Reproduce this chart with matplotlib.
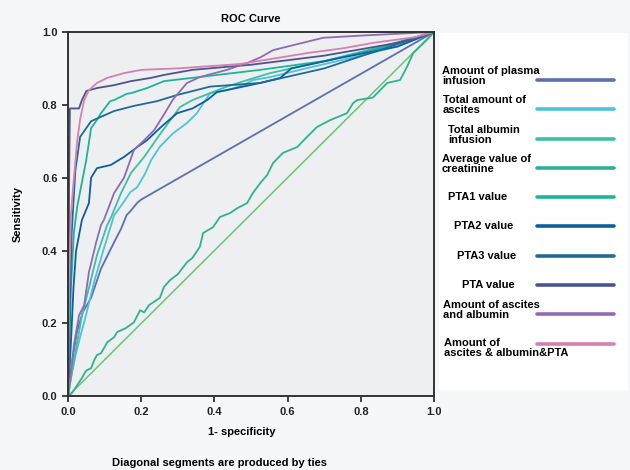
import matplotlib
matplotlib.use("Agg")
from matplotlib import pyplot as plt
from matplotlib.lines import Line2D
from matplotlib.patches import Rectangle

plt.rcParams['font.family'] = ['Liberation Sans', 'DejaVu Sans']
plt.rcParams['font.weight'] = 'bold'

# ROC curves: (1-specificity, sensitivity)
plasma_x = [0, 0.005, 0.015, 0.025, 0.04, 0.063, 0.09, 0.126, 0.145, 0.16, 0.172, 0.19, 0.2, 1.0]
plasma_y = [0, 0.05, 0.12, 0.18, 0.23, 0.27, 0.35, 0.423, 0.46, 0.497, 0.51, 0.532, 0.54, 1.0]

ascites_x = [0, 0.008, 0.02, 0.035, 0.049, 0.071, 0.098, 0.126, 0.15, 0.17, 0.189, 0.21, 0.227, 0.25,
             0.287, 0.325, 0.352, 0.37, 0.388, 0.434, 0.478, 0.505, 0.552, 0.65, 0.8, 0.9, 1.0]
ascites_y = [0, 0.05, 0.11, 0.17, 0.222, 0.313, 0.406, 0.497, 0.53, 0.56, 0.574, 0.61, 0.648, 0.684,
             0.722, 0.75, 0.777, 0.805, 0.832, 0.84, 0.854, 0.868, 0.876, 0.9, 0.935, 0.96, 1.0]

albumin_x = [0, 0.008, 0.02, 0.038, 0.057, 0.079, 0.107, 0.117, 0.145, 0.172, 0.208, 0.254, 0.306,
             0.34, 0.388, 0.434, 0.49, 0.552, 0.7, 0.85, 1.0]
albumin_y = [0, 0.05, 0.12, 0.222, 0.297, 0.387, 0.47, 0.49, 0.558, 0.613, 0.657, 0.723, 0.794,
             0.813, 0.832, 0.85, 0.868, 0.887, 0.92, 0.958, 1.0]

creat_x = [0, 0.01, 0.025, 0.038, 0.049, 0.063, 0.072, 0.079, 0.09, 0.1, 0.107, 0.126, 0.134, 0.158,
           0.18, 0.197, 0.208, 0.221, 0.251, 0.262, 0.279, 0.3, 0.325, 0.34, 0.36, 0.369, 0.396, 0.415,
           0.443, 0.462, 0.489, 0.505, 0.525, 0.544, 0.56, 0.587, 0.626, 0.653, 0.68, 0.716, 0.762,
           0.779, 0.79, 0.833, 0.872, 0.907, 0.926, 0.943, 0.98, 1.0]
creat_y = [0, 0.008, 0.03, 0.05, 0.07, 0.077, 0.1, 0.113, 0.118, 0.135, 0.148, 0.162, 0.176, 0.187,
           0.203, 0.236, 0.23, 0.25, 0.27, 0.3, 0.319, 0.335, 0.368, 0.38, 0.41, 0.448, 0.464, 0.492,
           0.503, 0.516, 0.53, 0.558, 0.585, 0.607, 0.64, 0.668, 0.684, 0.712, 0.739, 0.758, 0.777,
           0.805, 0.813, 0.82, 0.86, 0.868, 0.904, 0.942, 0.978, 1.0]

pta1_x = [0, 0.004, 0.008, 0.016, 0.025, 0.05, 0.063, 0.08, 0.09, 0.115, 0.126, 0.16, 0.172, 0.216,
          0.262, 0.34, 0.525, 0.7, 0.85, 1.0]
pta1_y = [0, 0.15, 0.3, 0.45, 0.52, 0.65, 0.736, 0.76, 0.777, 0.81, 0.813, 0.83, 0.832, 0.846,
          0.865, 0.874, 0.896, 0.92, 0.955, 1.0]

pta2_x = [0, 0.008, 0.015, 0.022, 0.038, 0.057, 0.063, 0.079, 0.117, 0.153, 0.189, 0.216, 0.254,
          0.298, 0.34, 0.38, 0.407, 0.46, 0.525, 0.58, 0.61, 0.75, 0.9, 1.0]
pta2_y = [0, 0.15, 0.3, 0.4, 0.484, 0.53, 0.6, 0.626, 0.635, 0.657, 0.684, 0.703, 0.739,
          0.777, 0.79, 0.813, 0.835, 0.846, 0.86, 0.874, 0.9, 0.93, 0.96, 1.0]

pta3_x = [0, 0.005, 0.01, 0.02, 0.033, 0.063, 0.126, 0.18, 0.243, 0.298, 0.388, 0.525, 0.7, 0.85, 1.0]
pta3_y = [0, 0.25, 0.45, 0.62, 0.712, 0.755, 0.783, 0.797, 0.81, 0.827, 0.85, 0.86, 0.9, 0.95, 1.0]

pta_x = [0, 0.003, 0.005, 0.03, 0.038, 0.05, 0.079, 0.126, 0.172, 0.227, 0.262, 0.34, 0.5, 0.7, 0.9, 1.0]
pta_y = [0, 0.6, 0.79, 0.79, 0.813, 0.838, 0.846, 0.854, 0.865, 0.874, 0.882, 0.896, 0.91, 0.935, 0.97, 1.0]

asc_alb_x = [0, 0.008, 0.016, 0.03, 0.044, 0.057, 0.077, 0.09, 0.098, 0.126, 0.153, 0.18, 0.208,
             0.235, 0.26, 0.287, 0.325, 0.36, 0.434, 0.49, 0.525, 0.56, 0.62, 0.697, 0.8, 1.0]
asc_alb_y = [0, 0.066, 0.14, 0.222, 0.25, 0.34, 0.423, 0.47, 0.484, 0.558, 0.6, 0.676, 0.703,
             0.73, 0.77, 0.815, 0.86, 0.876, 0.896, 0.915, 0.93, 0.95, 0.965, 0.984, 0.99, 1.0]

asc_alb_pta_x = [0, 0.003, 0.008, 0.014, 0.025, 0.033, 0.044, 0.057, 0.079, 0.107, 0.153, 0.2,
                 0.3, 0.47, 0.55, 0.653, 0.75, 0.833, 0.95, 1.0]
asc_alb_pta_y = [0, 0.3, 0.5, 0.575, 0.7, 0.76, 0.813, 0.84, 0.86, 0.874, 0.887, 0.896,
                 0.9, 0.912, 0.925, 0.942, 0.955, 0.97, 0.986, 1.0]

ref_x = [0, 1]
ref_y = [0, 1]

labels = ['Amount of plasma\ninfusion', 'Total amount of\nascites', 'Total albumin\ninfusion',
          'Average value of\ncreatinine', 'PTA1 value', 'PTA2 value', 'PTA3 value', 'PTA value',
          'Amount of ascites\nand albumin', 'Amount of\nascites & albumin&PTA']
curves = [(plasma_x, plasma_y), (ascites_x, ascites_y), (albumin_x, albumin_y), (creat_x, creat_y),
          (pta1_x, pta1_y), (pta2_x, pta2_y), (pta3_x, pta3_y), (pta_x, pta_y),
          (asc_alb_x, asc_alb_y), (asc_alb_pta_x, asc_alb_pta_y)]
colors = ['#5b6fb5', '#4fc3d9', '#3dbfa8', '#2db38f', '#1db59a', '#0b5fa0', '#1e6a9a',
          '#4a5590', '#8e6bb5', '#d77fb0']

fig = plt.figure(figsize=(6.3, 4.7), dpi=100, facecolor='#f6f7f9')
fig.patches.append(Rectangle((0.697, 0.17), 0.3, 0.76, transform=fig.transFigure,
                             facecolor='white', edgecolor='none', zorder=0))
ax = fig.add_axes([0.108, 0.157, 0.581, 0.775])
ax.set_facecolor('#eeeff1')

ax.plot(ref_x, ref_y, color='#6cc46f', lw=1.1)
for (x, y), c in zip(curves, colors):
    ax.plot(x, y, color=c, lw=1.3)

ax.set_xlim(0, 1)
ax.set_ylim(0, 1)
ticks = [0.0, 0.2, 0.4, 0.6, 0.8, 1.0]
ax.set_xticks(ticks)
ax.set_yticks(ticks)
ax.set_xticklabels(['%.1f' % t for t in ticks])
ax.set_yticklabels(['%.1f' % t for t in ticks])
ax.tick_params(direction='out', length=4, width=1.2, labelsize=8, colors='#222222')
for s in ax.spines.values():
    s.set_linewidth(1.4)
    s.set_color('#333333')

ax.set_title('ROC Curve', fontsize=8, fontweight='bold', pad=7)
ax.set_xlabel('1- specificity', fontsize=8, fontweight='bold')
ax.xaxis.set_label_coords(0.475, -0.085)
ax.set_ylabel('Sensitivity', fontsize=8, fontweight='bold', labelpad=14)
fig.text(0.349, 0.015, 'Diagonal segments are produced by ties', fontsize=8,
         fontweight='bold', ha='center', va='center')

# legend: text on the left, line sample on the right
line_y = [80, 109, 139, 168, 197, 226, 256, 285, 314, 344]
text_x = [442, 443, 448, 442, 448, 454, 457, 462, 443, 444]
text_dy = [-4, -4, -4, -4, 0, 0, 0, 0, -4, 4]
for lab, c, ly, tx, dy in zip(labels, colors, line_y, text_x, text_dy):
    fy = 1 - (ly + dy) / 470
    fig.text(tx / 630, fy, lab, fontsize=8, fontweight='bold', ha='left', va='center',
             linespacing=1.1)
    fig.add_artist(Line2D([537 / 630, 614 / 630], [1 - ly / 470, 1 - ly / 470],
                          color=c, lw=2.6, solid_capstyle='round'))

plt.savefig('out.png', dpi=100, facecolor=fig.get_facecolor())
